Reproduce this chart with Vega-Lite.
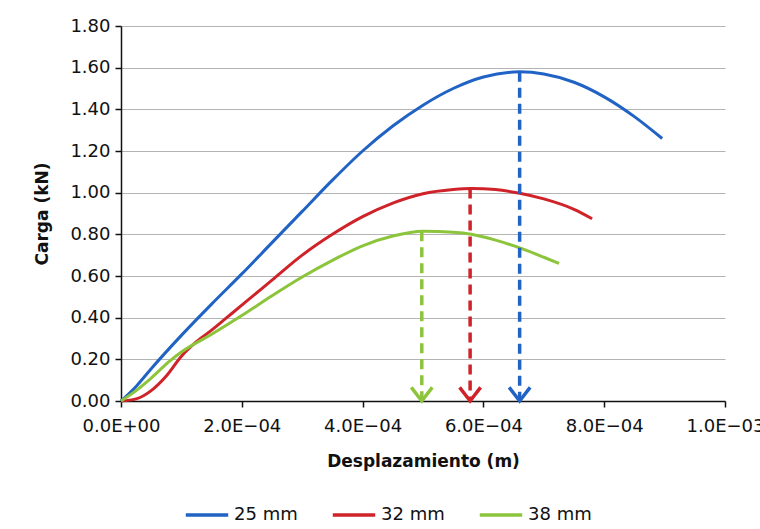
{
  "$schema": "https://vega.github.io/schema/vega-lite/v6.json",
  "width": 604,
  "height": 375,
  "autosize": {"type": "none"},
  "padding": {"left": 121, "top": 26, "right": 35, "bottom": 128},
  "background": "white",
  "config": {
    "view": {"stroke": null},
    "font": "DejaVu Sans",
    "axis": {"labelFont": "DejaVu Sans", "labelFontSize": 18, "labelColor": "#111", "titleFont": "DejaVu Sans", "titleFontSize": 17, "titleFontWeight": "bold", "titleColor": "#111", "domainColor": "#111", "domainWidth": 1.5, "tickColor": "#111", "tickWidth": 1.5, "tickSize": 6}
  },
  "datasets": {
    "curves": [
      {"serie": "25 mm", "x": 0, "y": 0},
      {"serie": "25 mm", "x": 0.000025, "y": 0.07},
      {"serie": "25 mm", "x": 0.00005, "y": 0.155},
      {"serie": "25 mm", "x": 0.0001, "y": 0.315},
      {"serie": "25 mm", "x": 0.00015, "y": 0.465},
      {"serie": "25 mm", "x": 0.0002, "y": 0.61},
      {"serie": "25 mm", "x": 0.00025, "y": 0.76},
      {"serie": "25 mm", "x": 0.0003, "y": 0.91},
      {"serie": "25 mm", "x": 0.00035, "y": 1.06},
      {"serie": "25 mm", "x": 0.0004, "y": 1.20},
      {"serie": "25 mm", "x": 0.00045, "y": 1.32},
      {"serie": "25 mm", "x": 0.0005, "y": 1.42},
      {"serie": "25 mm", "x": 0.00055, "y": 1.50},
      {"serie": "25 mm", "x": 0.0006, "y": 1.555},
      {"serie": "25 mm", "x": 0.00066, "y": 1.58},
      {"serie": "25 mm", "x": 0.0007, "y": 1.57},
      {"serie": "25 mm", "x": 0.00075, "y": 1.53},
      {"serie": "25 mm", "x": 0.0008, "y": 1.46},
      {"serie": "25 mm", "x": 0.00085, "y": 1.365},
      {"serie": "25 mm", "x": 0.000896, "y": 1.26},
      {"serie": "32 mm", "x": 0, "y": 0},
      {"serie": "32 mm", "x": 0.000025, "y": 0.01},
      {"serie": "32 mm", "x": 0.00005, "y": 0.05},
      {"serie": "32 mm", "x": 0.000075, "y": 0.12},
      {"serie": "32 mm", "x": 0.0001, "y": 0.215},
      {"serie": "32 mm", "x": 0.000125, "y": 0.285},
      {"serie": "32 mm", "x": 0.00015, "y": 0.34},
      {"serie": "32 mm", "x": 0.000175, "y": 0.40},
      {"serie": "32 mm", "x": 0.0002, "y": 0.46},
      {"serie": "32 mm", "x": 0.00025, "y": 0.58},
      {"serie": "32 mm", "x": 0.0003, "y": 0.70},
      {"serie": "32 mm", "x": 0.00035, "y": 0.80},
      {"serie": "32 mm", "x": 0.0004, "y": 0.885},
      {"serie": "32 mm", "x": 0.00045, "y": 0.95},
      {"serie": "32 mm", "x": 0.0005, "y": 0.995},
      {"serie": "32 mm", "x": 0.00055, "y": 1.015},
      {"serie": "32 mm", "x": 0.00058, "y": 1.02},
      {"serie": "32 mm", "x": 0.00062, "y": 1.015},
      {"serie": "32 mm", "x": 0.00066, "y": 0.997},
      {"serie": "32 mm", "x": 0.0007, "y": 0.97},
      {"serie": "32 mm", "x": 0.00075, "y": 0.92},
      {"serie": "32 mm", "x": 0.00078, "y": 0.875},
      {"serie": "38 mm", "x": 0, "y": 0},
      {"serie": "38 mm", "x": 0.000025, "y": 0.05},
      {"serie": "38 mm", "x": 0.00005, "y": 0.11},
      {"serie": "38 mm", "x": 0.00008, "y": 0.19},
      {"serie": "38 mm", "x": 0.0001, "y": 0.235},
      {"serie": "38 mm", "x": 0.00015, "y": 0.32},
      {"serie": "38 mm", "x": 0.0002, "y": 0.41},
      {"serie": "38 mm", "x": 0.00025, "y": 0.505},
      {"serie": "38 mm", "x": 0.0003, "y": 0.595},
      {"serie": "38 mm", "x": 0.00035, "y": 0.675},
      {"serie": "38 mm", "x": 0.0004, "y": 0.745},
      {"serie": "38 mm", "x": 0.00045, "y": 0.792},
      {"serie": "38 mm", "x": 0.0005, "y": 0.815},
      {"serie": "38 mm", "x": 0.00055, "y": 0.81},
      {"serie": "38 mm", "x": 0.00058, "y": 0.80},
      {"serie": "38 mm", "x": 0.00062, "y": 0.772},
      {"serie": "38 mm", "x": 0.00066, "y": 0.735},
      {"serie": "38 mm", "x": 0.0007, "y": 0.69},
      {"serie": "38 mm", "x": 0.000725, "y": 0.66}
    ],
    "peaks": [
      {"serie": "25 mm", "x": 0.00066, "y": 1.58},
      {"serie": "32 mm", "x": 0.000578, "y": 1.02},
      {"serie": "38 mm", "x": 0.000498, "y": 0.815}
    ]
  },
  "layer": [
    {
      "data": {"name": "curves"},
      "mark": {"type": "line", "strokeWidth": 3, "interpolate": "monotone"},
      "encoding": {
        "x": {"field": "x", "type": "quantitative",
          "scale": {"domain": [0, 0.001], "nice": false},
          "axis": {"title": "Desplazamiento (m)", "grid": false, "values": [0, 0.0002, 0.0004, 0.0006, 0.0008, 0.001],
            "labelExpr": "datum.value == 0 ? '0.0E+00' : (datum.value > 0.00099 ? '1.0E\u221203' : format(datum.value * 10000, '.1f') + 'E\u221204')",
            "labelPadding": 10, "titlePadding": 18, "labelFlush": false}},
        "y": {"field": "y", "type": "quantitative",
          "scale": {"domain": [0, 1.8], "nice": false},
          "axis": {"title": "Carga (kN)", "values": [0, 0.2, 0.4, 0.6, 0.8, 1.0, 1.2, 1.4, 1.6, 1.8], "format": ".2f",
            "grid": true, "gridColor": "#b4b4b4", "gridWidth": 1.2, "labelPadding": 5, "titlePadding": 18}},
        "color": {"field": "serie", "type": "nominal",
          "scale": {"domain": ["25 mm", "32 mm", "38 mm"], "range": ["#2063c4", "#cf2329", "#8cc43c"]},
          "legend": {"title": null, "orient": "none", "legendX": 63, "legendY": 466, "direction": "horizontal", "symbolType": "stroke", "symbolSize": 1800, "symbolStrokeWidth": 3, "labelFontSize": 18, "labelFont": "DejaVu Sans", "labelColor": "#111", "columnPadding": 27, "labelOffset": 4}}
      }
    },
    {
      "data": {"name": "peaks"},
      "mark": {"type": "rule", "strokeDash": [10, 6]},
      "encoding": {
        "x": {"field": "x", "type": "quantitative"},
        "y": {"field": "y", "type": "quantitative"},
        "y2": {"datum": 0},
        "stroke": {"field": "serie", "type": "nominal", "scale": {"domain": ["25 mm", "32 mm", "38 mm"], "range": ["#2063c4", "#cf2329", "#8cc43c"]}, "legend": null},
        "strokeWidth": {"field": "serie", "type": "nominal", "scale": {"domain": ["25 mm", "32 mm", "38 mm"], "range": [3.5, 3.5, 2.5]}, "legend": null}
      }
    },
    {
      "data": {"name": "peaks"},
      "mark": {"type": "point", "filled": false, "shape": "M -1 -1.3 L 0 0 L 1 -1.3", "size": 441, "opacity": 1},
      "encoding": {
        "x": {"field": "x", "type": "quantitative"},
        "y": {"datum": 0},
        "stroke": {"field": "serie", "type": "nominal", "legend": null},
        "strokeWidth": {"field": "serie", "type": "nominal", "legend": null}
      }
    }
  ]
}
